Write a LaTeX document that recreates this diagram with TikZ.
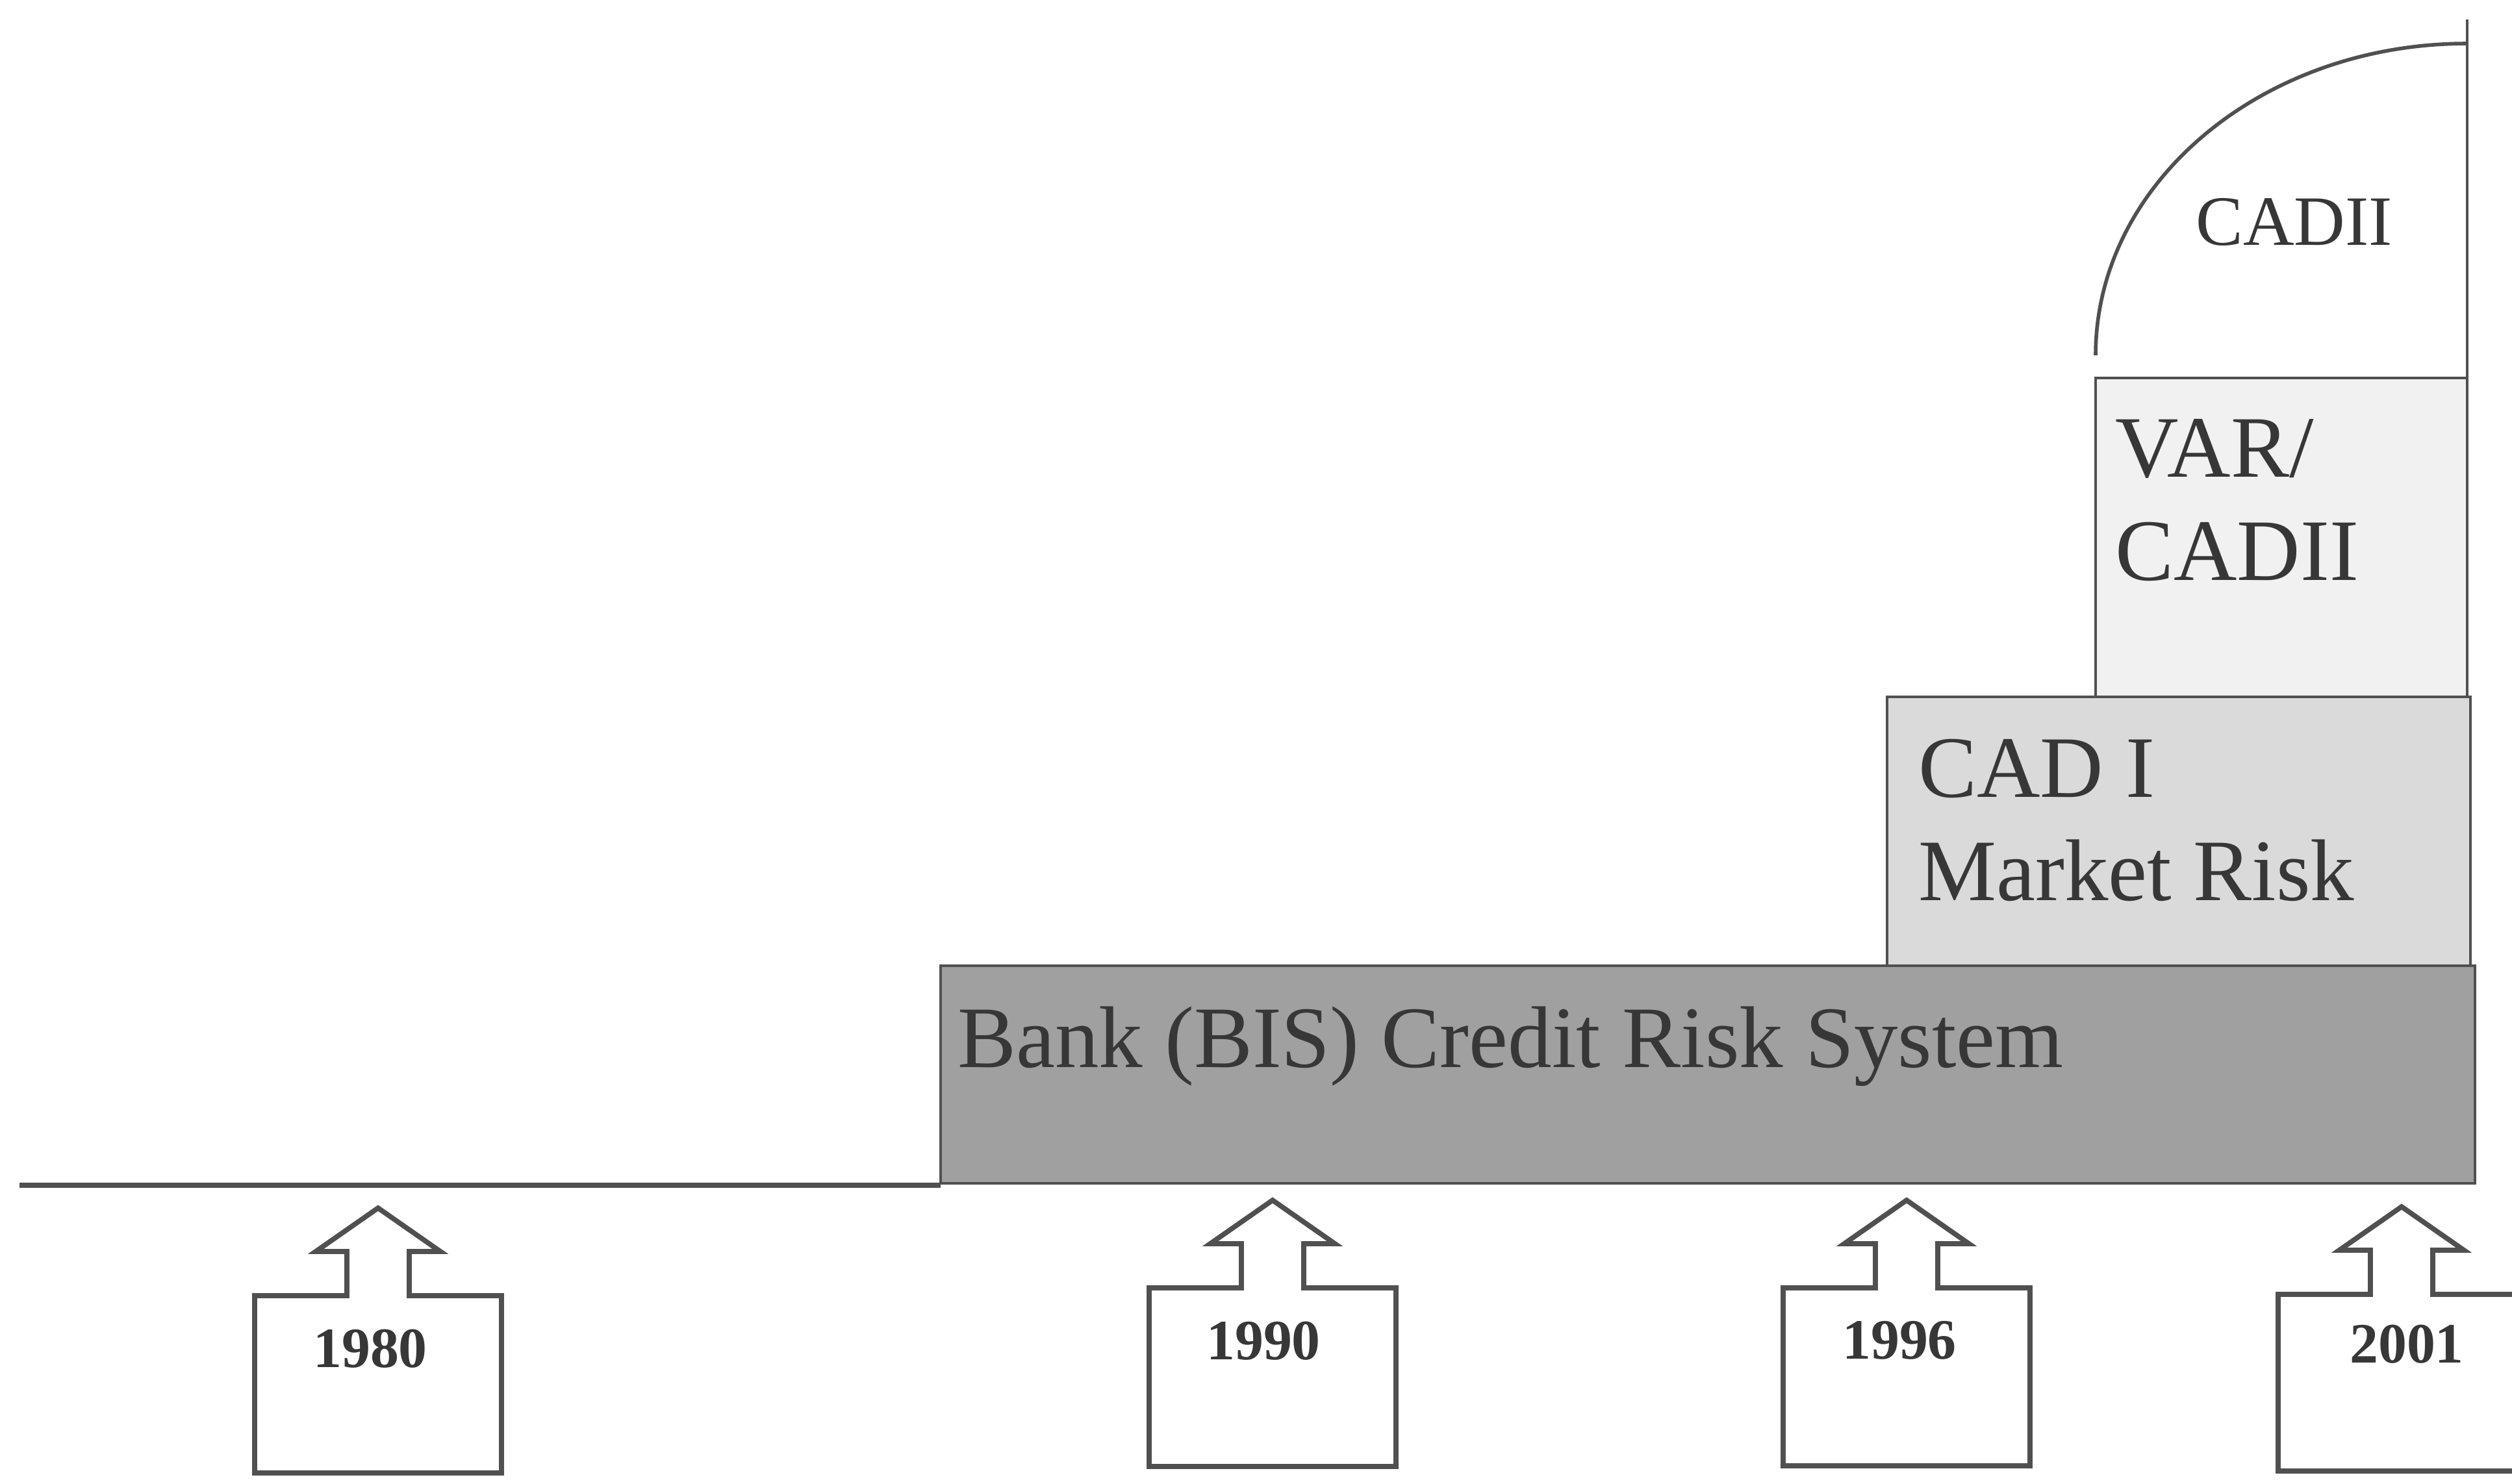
\documentclass[tikz,border=0pt]{standalone}
\usepackage{fontspec}
\setmainfont{Liberation Serif}
\definecolor{linegray}{RGB}{80,80,80}
\definecolor{textgray}{RGB}{55,55,55}
\definecolor{bisgray}{RGB}{160,160,160}
\definecolor{cadgray}{RGB}{218,218,218}
\definecolor{vargray}{RGB}{241,241,241}

\begin{document}
\begin{tikzpicture}[scale=0.5]
	\tikzstyle{every node}+=[inner sep=0pt, text=textgray]
	\tikzstyle{outline}=[draw=linegray, line width=0.6pt]
	\tikzstyle{yearbox}=[draw=linegray, line width=1.1pt, line join=miter]
	\tikzstyle{boxlabel}=[anchor=base west, align=left, font=\fontsize{19.2}{22.6}\selectfont]
	\tikzstyle{yearlabel}=[anchor=base, font=\fontsize{12.5}{15}\selectfont\bfseries]
	\useasboundingbox (0,0) rectangle (38.67,-22.84);
	\draw [linegray, line width=1.2pt] (0.30,-18.25) -- (14.48,-18.25);
	\filldraw [outline, fill=bisgray] (14.48,-14.87) rectangle (38.10,-18.22);
	\filldraw [outline, fill=cadgray] (29.05,-10.73) rectangle (38.03,-14.87);
	\filldraw [outline, fill=vargray] (32.26,-5.82) rectangle (37.98,-10.73);
	\draw [linegray, line width=0.8pt] (32.26,-5.47) arc (180:90:5.72 and 4.80);
	\draw [linegray, line width=0.7pt] (37.98,-0.30) -- (37.98,-5.82);
	\node [boxlabel] (bis) at (14.73,-16.43) {Bank (BIS) Credit Risk System};
	\node [boxlabel] (cad1) at (29.52,-13.86) {CAD I\\Market Risk};
	\node [boxlabel] (var) at (32.55,-8.93) {VAR/\\CADII};
	\node [boxlabel, font=\fontsize{15.5}{18}\selectfont] (cad2) at (33.79,-3.77) {CADII};
	\draw [yearbox] (3.92,-19.95) -- (5.34,-19.95) -- (5.34,-19.27) -- (4.86,-19.27) -- (5.82,-18.60) -- (6.78,-19.27) -- (6.30,-19.27) -- (6.30,-19.95) -- (7.72,-19.95) -- (7.72,-22.68) -- (3.92,-22.68) -- cycle;
	\node [yearlabel] (y1980) at (5.70,-21.05) {1980};
	\draw [yearbox] (17.69,-19.83) -- (19.11,-19.83) -- (19.11,-19.15) -- (18.63,-19.15) -- (19.59,-18.48) -- (20.55,-19.15) -- (20.07,-19.15) -- (20.07,-19.83) -- (21.49,-19.83) -- (21.49,-22.58) -- (17.69,-22.58) -- cycle;
	\node [yearlabel] (y1990) at (19.45,-20.93) {1990};
	\draw [yearbox] (27.45,-19.83) -- (28.87,-19.83) -- (28.87,-19.15) -- (28.39,-19.15) -- (29.35,-18.48) -- (30.31,-19.15) -- (29.83,-19.15) -- (29.83,-19.83) -- (31.25,-19.83) -- (31.25,-22.57) -- (27.45,-22.57) -- cycle;
	\node [yearlabel] (y1996) at (29.24,-20.92) {1996};
	\draw [yearbox] (35.07,-19.93) -- (36.49,-19.93) -- (36.49,-19.25) -- (36.01,-19.25) -- (36.97,-18.58) -- (37.93,-19.25) -- (37.45,-19.25) -- (37.45,-19.93) -- (38.87,-19.93) -- (38.87,-22.65) -- (35.07,-22.65) -- cycle;
	\node [yearlabel] (y2001) at (37.05,-20.98) {2001};
\end{tikzpicture}
\end{document}
